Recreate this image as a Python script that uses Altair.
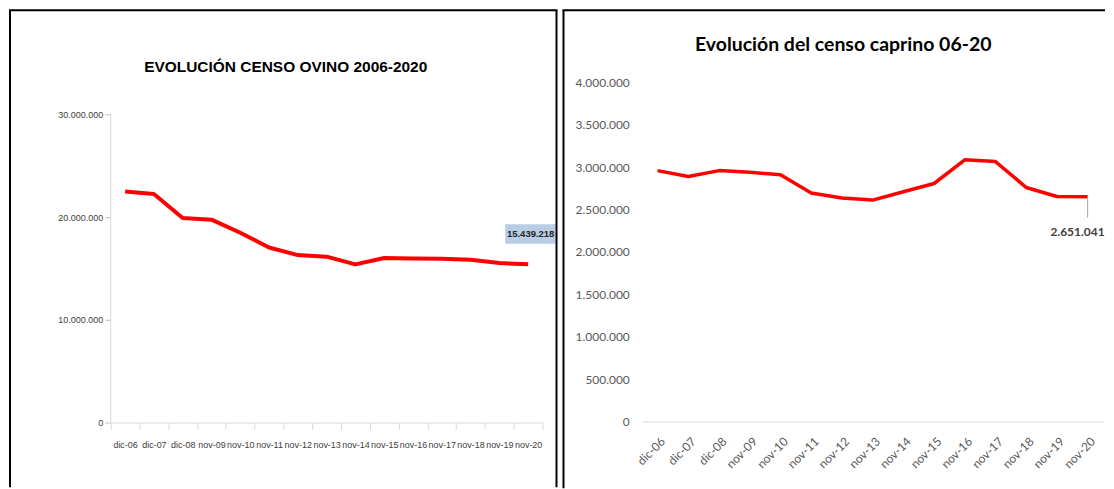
import altair as alt
import pandas as pd

categories = ["dic-06", "dic-07", "dic-08", "nov-09", "nov-10", "nov-11", "nov-12",
              "nov-13", "nov-14", "nov-15", "nov-16", "nov-17", "nov-18", "nov-19", "nov-20"]
ovino = [22530000, 22280000, 19950000, 19780000, 18500000, 17070000, 16330000,
         16170000, 15420000, 16040000, 16000000, 15970000, 15870000, 15550000, 15439218]
caprino = [2960000, 2890000, 2960000, 2940000, 2910000, 2695000, 2636000,
           2612000, 2710000, 2808000, 3087000, 3067000, 2761000, 2655000, 2651041]
ovino_ticks = [0, 10000000, 20000000, 30000000]
caprino_ticks = [0, 500000, 1000000, 1500000, 2000000, 2500000, 3000000, 3500000, 4000000]
title_ovino = "EVOLUCIÓN CENSO OVINO 2006-2020"
title_caprino = "Evolución del censo caprino 06-20"
last_cat = "nov-20"

df_o = pd.DataFrame({"cat": categories, "val": ovino})
df_c = pd.DataFrame({"cat": categories, "val": caprino})
one = pd.DataFrame({"k": [0]})
axis_o = pd.DataFrame({"lo": [ovino_ticks[0]], "hi": [ovino_ticks[-1]]})

NARROW = "'Liberation Sans', Arial, sans-serif"
LATO = "Lato, 'Open Sans', sans-serif"
RED = "#ff0000"

# ---------------- left panel (ovino) ----------------
LW, LH = 433, 341
O_TOP = 33160000  # top of the plot area (axis itself stops at 30.000.000)
xo = alt.X("cat:N", sort=categories,
           scale=alt.Scale(type="band", paddingInner=0, paddingOuter=0),
           axis=alt.Axis(title=None, labelAngle=0, tickBand="extent", tickSize=7,
                         domainColor="#d9d9d9", tickColor="#d9d9d9",
                         labelFont=NARROW, labelFontSize=9, labelColor="#404040",
                         labelPadding=11))
yscale_o = alt.Scale(domain=[0, O_TOP], nice=False)
yaxis_o = alt.Axis(title=None, values=ovino_ticks, format=",d", grid=False,
                   domain=False, tickColor="#bfbfbf", tickSize=6,
                   labelPadding=2, labelFont=NARROW, labelFontSize=9,
                   labelColor="#404040")
yo = alt.Y("val:Q", scale=yscale_o, axis=yaxis_o)

base_o = alt.Chart(df_o)
yaxis_line = alt.Chart(axis_o).mark_rule(color="#d9d9d9", strokeWidth=1).encode(
    x=alt.value(0),
    y=alt.Y("lo:Q", scale=yscale_o, axis=yaxis_o),
    y2="hi:Q")
line_o = base_o.mark_line(color=RED, strokeWidth=4, strokeJoin="round").encode(x=xo, y=yo)
last_o = base_o.transform_filter(alt.datum.cat == last_cat)
box_o = last_o.mark_point(shape="M-2.3,-4H2.75V-2.06H-2.3Z", size=400, filled=True,
                          fill="#b9cde5", opacity=1, strokeWidth=0).encode(x=xo, y=yo)
lab_o = last_o.mark_text(font=NARROW, fontSize=9.5, fontWeight="bold", color="#262626",
                         dx=2.5, dy=-30, align="center", baseline="middle").encode(
    x=xo, y=yo, text=alt.Text("val:Q", format=",d"))

b1 = alt.Chart(one)
border_o = [
    b1.mark_rule(color="black", strokeWidth=2).encode(x=alt.value(-101), y=alt.value(-72.5), y2=alt.value(406)),
    b1.mark_rule(color="black", strokeWidth=2).encode(x=alt.value(-102), x2=alt.value(448), y=alt.value(-72.5)),
    b1.mark_rule(color="black", strokeWidth=2).encode(x=alt.value(447), y=alt.value(-72.5), y2=alt.value(406)),
]
ttl_o = b1.mark_text(text=title_ovino, font=NARROW, fontSize=15.5, fontWeight="bold",
                     color="black", align="center", baseline="alphabetic").encode(
    x=alt.value(175.5), y=alt.value(-10.5))

left = alt.layer(yaxis_line, line_o, box_o, lab_o, ttl_o, *border_o).properties(width=LW, height=LH)

# ---------------- right panel (caprino) ----------------
RW, RH = 462, 340
xc = alt.X("cat:N", sort=categories,
           scale=alt.Scale(type="band", paddingInner=0, paddingOuter=0),
           axis=alt.Axis(title=None, labelAngle=-45, ticks=False, labelOffset=2,
                         domainColor="#d9d9d9", labelFont=LATO, labelFontSize=12,
                         labelColor="#595959", labelPadding=14))
yc = alt.Y("val:Q", scale=alt.Scale(domain=[0, 4000000], nice=False),
           axis=alt.Axis(title=None, values=caprino_ticks, format=",d", grid=False,
                         domain=False, ticks=False, labelPadding=13, labelFont=LATO,
                         labelFontSize=12, labelColor="#595959"))

base_c = alt.Chart(df_c)
line_c = base_c.mark_line(color=RED, strokeWidth=3.5, strokeJoin="round").encode(x=xc, y=yc)
last_c = base_c.transform_filter(alt.datum.cat == last_cat)
lead_c = last_c.mark_point(shape="M0,0.2V2.1", size=400, filled=False, stroke="#a6a6a6",
                           strokeWidth=1, opacity=1).encode(x=xc, y=yc)
lab_c = last_c.mark_text(font=LATO, fontSize=12, fontWeight="bold", color="#404040",
                         dx=17, dy=35, align="right", baseline="middle").encode(
    x=xc, y=yc, text=alt.Text("val:Q", format=",d"))

b2 = alt.Chart(one)
border_c = [
    b2.mark_rule(color="black", strokeWidth=2).encode(x=alt.value(-79), y=alt.value(-72.5), y2=alt.value(407)),
    b2.mark_rule(color="black", strokeWidth=2).encode(x=alt.value(-80), x2=alt.value(464), y=alt.value(-72.5)),
]
ttl_c = b2.mark_text(text=title_caprino, font=LATO, fontSize=19.5, fontWeight="bold",
                     color="black", align="center", baseline="alphabetic").encode(
    x=alt.value(201.5), y=alt.value(-31.5))

right = alt.layer(line_c, lead_c, lab_c, ttl_c, *border_c).properties(width=RW, height=RH)

chart = alt.hconcat(left, right, spacing=3).properties(
    padding=0, background="white"
).configure(
    locale={"number": {"decimal": ",", "thousands": ".", "grouping": [3],
                       "currency": ["", "\u00a0€"]}},
    view=alt.ViewConfig(stroke=None),
)

chart.save("out.html", embed_options={"renderer": "svg", "actions": False})
